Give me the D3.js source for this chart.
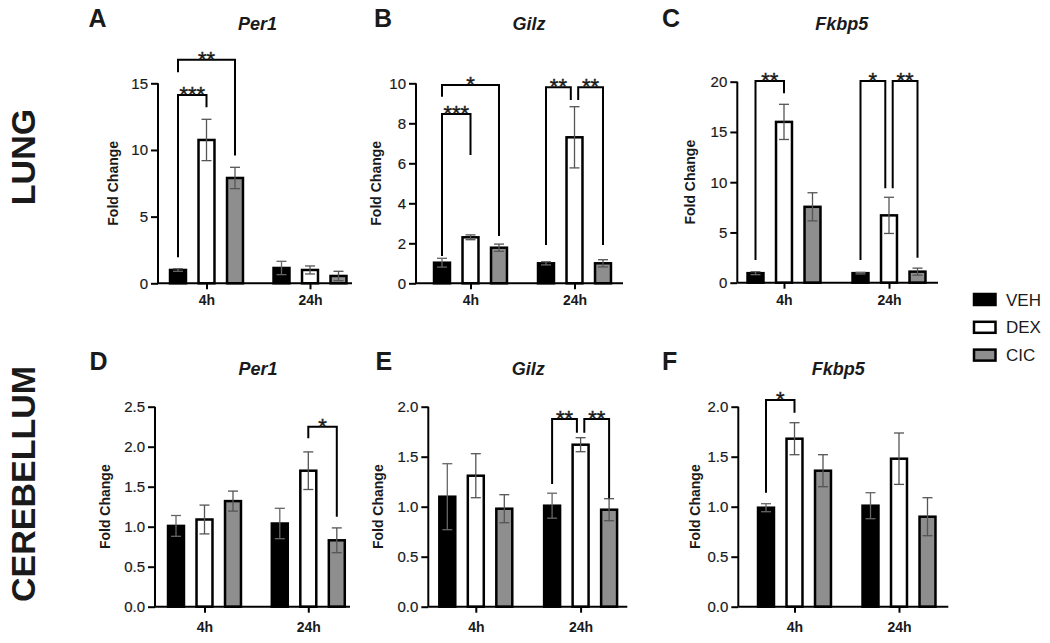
<!DOCTYPE html>
<html><head><meta charset="utf-8">
<script src="https://cdn.jsdelivr.net/npm/d3@7"></script>
<style>
body{margin:0;background:#fff}
svg{display:block}
text{font-family:"Liberation Sans",Arial,Helvetica,sans-serif;fill:#1a1a1a}
</style>
</head><body>
<svg id="c" width="1050" height="643"></svg>
<script>
// ---------------- data ----------------
const groups = ["4h", "24h"];
const series = ["VEH", "DEX", "CIC"];
const genes = ["Per1", "Gilz", "Fkbp5"];
const tissues = ["LUNG", "CEREBELLUM"];
const letters = ["A", "B", "C", "D", "E", "F"];
const yMax = [15, 10, 20, 2.5, 2, 2];
const yStep = [5, 2, 5, 0.5, 0.5, 0.5];

// mean values [group][series]
const lungPer1Mean  = [[1.00, 10.75, 7.90], [1.15, 1.00, 0.55]];
const lungPer1Err   = [[0.10, 1.55, 0.80], [0.50, 0.30, 0.35]];
const lungGilzMean  = [[1.03, 2.30, 1.78], [1.00, 7.30, 1.00]];
const lungGilzErr   = [[0.22, 0.12, 0.18], [0.08, 1.53, 0.18]];
const lungFkbp5Mean = [[0.95, 16.0, 7.55], [0.95, 6.70, 1.10]];
const lungFkbp5Err  = [[0.15, 1.75, 1.40], [0.08, 1.80, 0.35]];
const cerePer1Mean  = [[1.01, 1.09, 1.32], [1.04, 1.70, 0.83]];
const cerePer1Err   = [[0.13, 0.18, 0.125], [0.19, 0.235, 0.155]];
const cereGilzMean  = [[1.10, 1.31, 0.98], [1.01, 1.62, 0.97]];
const cereGilzErr   = [[0.33, 0.22, 0.14], [0.125, 0.07, 0.11]];
const cereFkbp5Mean = [[0.99, 1.68, 1.36], [1.01, 1.48, 0.90]];
const cereFkbp5Err  = [[0.04, 0.16, 0.16], [0.13, 0.257, 0.19]];

const means = [lungPer1Mean, lungGilzMean, lungFkbp5Mean, cerePer1Mean, cereGilzMean, cereFkbp5Mean];
const errs  = [lungPer1Err, lungGilzErr, lungFkbp5Err, cerePer1Err, cereGilzErr, cereFkbp5Err];

// significance: [panel, group, fromSeries, toSeries, bracketLevel, leftLegEnd, rightLegEnd, label]
const sigBrackets = [
  [0, 0, 0, 1, 14.13, 1.95, 13.2, "***"],
  [0, 0, 0, 2, 16.76, 15.83, 9.58, "**"],
  [1, 0, 0, 1, 8.47, 1.37, 6.42, "***"],
  [1, 0, 0, 2, 9.92, 9.33, 2.37, "*"],
  [1, 1, 0, 1, 9.8, 1.92, 9.17, "**"],
  [1, 1, 1, 2, 9.8, 9.17, 1.92, "**"],
  [2, 0, 0, 1, 20.07, 2.26, 18.85, "**"],
  [2, 1, 0, 1, 20.07, 2.26, 9.39, "*"],
  [2, 1, 1, 2, 20.07, 9.39, 2.49, "**"],
  [3, 1, 1, 2, 2.25, 2.105, 1.125, "*"],
  [4, 1, 0, 1, 1.877, 1.227, 1.74, "**"],
  [4, 1, 1, 2, 1.877, 1.74, 1.084, "**"],
  [5, 0, 0, 1, 2.067, 1.14, 1.94, "*"]
];

// ---------------- layout ----------------
const layout = [
  {x0:158,   x1:352,   y0:283.3, yt:83.3,  g:[206.5,310],   lab:40, fs:15, tx:257.5, lx:88.5},
  {x0:416,   x1:623,   y0:283.3, yt:83.3,  g:[470.5,574.5], lab:35, fs:15, tx:529,   lx:374},
  {x0:737.3, x1:938,   y0:282.7, yt:81.7,  g:[784,889],     lab:42, fs:15, tx:841.7, lx:662},
  {x0:155,   x1:350,   y0:606.7, yt:406.7, g:[204.5,308.3], lab:45, fs:15, tx:258,   lx:89.5},
  {x0:428.3, x1:627.3, y0:606.7, yt:406.7, g:[475.8,580.6], lab:45, fs:15, tx:528.3, lx:375.5},
  {x0:738.3, x1:948.3, y0:606.7, yt:406.7, g:[794.5,899],   lab:38, fs:15, tx:838.3, lx:662}
];
const fills = {VEH:"#000000", DEX:"#ffffff", CIC:"#8e8e8e"};

const svg = d3.select("#c");

means.forEach((m, p) => {
  const L = layout[p];
  const top = p < 3;
  const g = svg.append("g");
  const x = d3.scalePoint().domain(groups).range(L.g);
  const xs = d3.scaleBand().domain(series).range([-42.75, 42.75]).paddingInner(0.44).paddingOuter(0.22);
  const y = d3.scaleLinear().domain([0, yMax[p]]).range([L.y0, L.yt]);
  const bw = xs.bandwidth();
  const cx = (gi, si) => x(groups[gi]) + xs(series[si]) + bw / 2;

  // bars
  m.forEach((row, gi) => {
    row.forEach((v, si) => {
      g.append("rect")
        .attr("x", cx(gi, si) - bw / 2)
        .attr("y", y(v))
        .attr("width", bw)
        .attr("height", y(0) - y(v))
        .attr("fill", fills[series[si]])
        .attr("stroke", "#000")
        .attr("stroke-width", 2.5);
    });
  });
  // error bars
  m.forEach((row, gi) => {
    row.forEach((v, si) => {
      const e = errs[p][gi][si];
      const c = cx(gi, si);
      const col = si === 0 ? "#666" : "#555";
      const eg = g.append("g").attr("stroke", col).attr("stroke-width", 1.3);
      eg.append("line").attr("x1", c).attr("x2", c).attr("y1", y(v + e)).attr("y2", y(Math.max(0, v - e)));
      eg.append("line").attr("x1", c - 5).attr("x2", c + 5).attr("y1", y(v + e)).attr("y2", y(v + e));
      if (v - e > 0) eg.append("line").attr("x1", c - 5).attr("x2", c + 5).attr("y1", y(v - e)).attr("y2", y(v - e));
    });
  });

  // axes
  const ya = d3.axisLeft(y).tickValues(d3.range(0, yMax[p] + 1e-9, yStep[p]))
    .tickFormat(top ? d3.format("d") : d3.format(".1f")).tickSizeInner(7).tickSizeOuter(0).tickPadding(3);
  const yg = g.append("g").attr("transform", `translate(${L.x0},0)`).call(ya);
  yg.select(".domain").attr("stroke-width", 2).attr("d", `M0,${L.y0}V${L.yt}`);
  yg.selectAll(".tick line").attr("stroke-width", 2);
  yg.selectAll(".tick text").attr("font-size", L.fs).attr("fill", "#1a1a1a")
    .attr("stroke", "#1a1a1a").attr("stroke-width", 0.2)
    .style("font-family", '"Liberation Sans",Arial,sans-serif');

  const xa = d3.axisBottom(d3.scalePoint().domain(groups).range(L.g.map(v => v - L.x0))).tickSizeInner(6).tickSizeOuter(0).tickPadding(top ? 6 : 9);
  const xg = g.append("g").attr("transform", `translate(${L.x0},${L.y0})`).call(xa);
  xg.select(".domain").attr("stroke-width", 2).attr("d", `M0,0H${L.x1 - L.x0}`);
  xg.selectAll(".tick line").attr("stroke-width", 2);
  xg.selectAll(".tick text").attr("font-size", 14).attr("font-weight", "bold").attr("fill", "#1a1a1a").style("font-family", '"Liberation Sans",Arial,sans-serif');

  // y label
  g.append("text")
    .attr("transform", `translate(${L.x0 - L.lab},${(L.y0 + L.yt) / 2}) rotate(-90)`)
    .attr("text-anchor", "middle").attr("font-size", 14).attr("font-weight", "bold")
    .text("Fold Change");

  // title
  g.append("text").attr("x", L.tx).attr("y", top ? 30 : 375).attr("text-anchor", "middle")
    .attr("font-size", 18).attr("font-weight", "bold").attr("font-style", "italic").text(genes[p % 3]);
  // letter
  g.append("text").attr("x", L.lx).attr("y", top ? 27 : 370)
    .attr("font-size", 25).attr("font-weight", "bold").text(letters[p]);

  // brackets
  const mine = sigBrackets.filter(b => b[0] === p);
  mine.forEach(b => {
    const [, gi, a, c, lvl, le, re, lab] = b;
    let xa1 = cx(gi, a), xa2 = cx(gi, c);
    // nudge when a bar is shared by two adjacent brackets
    mine.forEach(o => {
      if (o === b || o[1] !== gi) return;
      if (o[2] === c && o[3] > c) xa2 -= 3.7;
      if (o[3] === a && o[2] < a) xa1 += 3.7;
    });
    const by = y(lvl);
    g.append("path")
      .attr("d", `M${xa1},${y(le)}V${by}H${xa2}V${y(re)}`)
      .attr("fill", "none").attr("stroke", "#000").attr("stroke-width", 2);
    g.append("text").attr("x", (xa1 + xa2) / 2).attr("y", by + 7)
      .attr("text-anchor", "middle").attr("font-size", 22)
      .attr("stroke", "#1a1a1a").attr("stroke-width", 0.4).text(lab);
  });
});

// row titles
[[157, tissues[0]], [484, tissues[1]]].forEach(([cy, t]) => {
  svg.append("text").attr("transform", `translate(35,${cy}) rotate(-90)`)
    .attr("text-anchor", "middle").attr("font-size", 34).attr("font-weight", "bold")
    .attr("fill", "#222").text(t);
});

// legend
const leg = svg.append("g");
series.forEach((s, i) => {
  const yy = 294 + i * 27.8;
  leg.append("rect").attr("x", 974).attr("y", yy).attr("width", 21.5).attr("height", 11)
    .attr("fill", fills[s]).attr("stroke", "#000").attr("stroke-width", 2.5);
  leg.append("text").attr("x", 1006).attr("y", yy + 11.5).attr("font-size", 17).text(s);
});
</script>
</body></html>
